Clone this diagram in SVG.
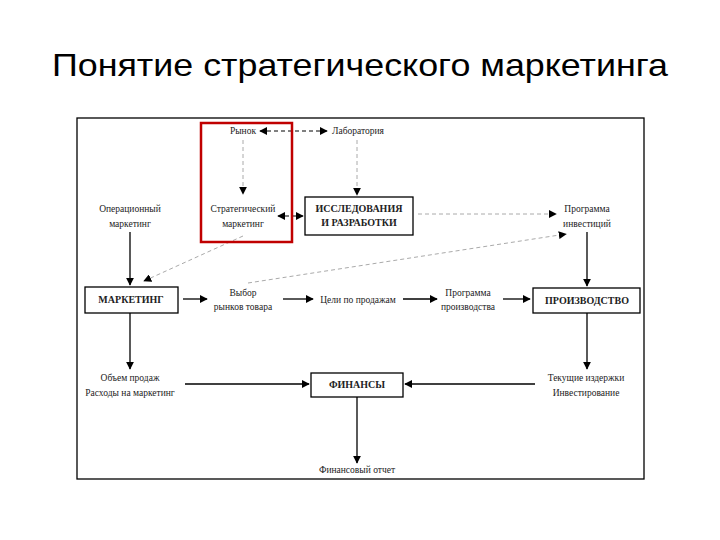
<svg xmlns="http://www.w3.org/2000/svg" width="720" height="540" viewBox="0 0 720 540">
<defs>
<style>
.t{font-family:"Liberation Serif","Times New Roman",serif;font-size:9.5px;fill:#222;text-anchor:middle}
.b{font-weight:bold;font-size:10px}
.ttl{font-family:"Liberation Sans",Arial,sans-serif;font-size:32px;fill:#000}
.box{fill:#fff;stroke:#000;stroke-width:1.3}
.s{stroke:#000;stroke-width:1.3;fill:none}
.d{stroke:#000;stroke-width:1;fill:none;stroke-dasharray:4 3}
.g{stroke:#aaa;stroke-width:1;fill:none;stroke-dasharray:4 3}
</style>
<marker id="a" viewBox="0 0 10 10" refX="9" refY="5" markerWidth="8" markerHeight="8" markerUnits="userSpaceOnUse" orient="auto-start-reverse">
<path d="M0,0 L10,5 L0,10 z" fill="#000"/>
</marker>
</defs>
<rect width="720" height="540" fill="#fff"/>
<text class="ttl" x="52" y="76" textLength="616" lengthAdjust="spacingAndGlyphs">Понятие стратегического маркетинга</text>
<rect x="77" y="118" width="567" height="361" fill="none" stroke="#000" stroke-width="1.3"/>

<g id="connectors">
<line class="d" x1="260" y1="131" x2="327" y2="131" marker-start="url(#a)" marker-end="url(#a)"/>
<line class="g" x1="243" y1="140" x2="243" y2="194" marker-end="url(#a)"/>
<line class="g" x1="357" y1="140" x2="357" y2="195" marker-end="url(#a)"/>
<line class="d" x1="278" y1="216" x2="303" y2="216" marker-start="url(#a)" marker-end="url(#a)"/>
<line class="g" x1="418" y1="214" x2="556" y2="214" marker-end="url(#a)"/>
<line class="g" x1="243" y1="236" x2="144" y2="281" marker-end="url(#a)"/>
<line class="g" x1="248" y1="283" x2="566" y2="234" marker-end="url(#a)"/>
<line class="s" x1="130" y1="232" x2="130" y2="285" marker-end="url(#a)"/>
<line class="s" x1="587" y1="232" x2="587" y2="286" marker-end="url(#a)"/>
<line class="s" x1="183" y1="299" x2="207" y2="299" marker-end="url(#a)"/>
<line class="s" x1="283" y1="299" x2="313" y2="299" marker-end="url(#a)"/>
<line class="s" x1="403" y1="299" x2="437" y2="299" marker-end="url(#a)"/>
<line class="s" x1="503" y1="299" x2="530" y2="299" marker-end="url(#a)"/>
<line class="s" x1="130" y1="313" x2="130" y2="369" marker-end="url(#a)"/>
<line class="s" x1="587" y1="313" x2="587" y2="369" marker-end="url(#a)"/>
<line class="s" x1="185" y1="384" x2="309" y2="384" marker-end="url(#a)"/>
<line class="s" x1="535" y1="384" x2="405" y2="384" marker-end="url(#a)"/>
<line class="s" x1="357" y1="397" x2="357" y2="463" marker-end="url(#a)"/>
</g>

<g id="red-highlight"><rect x="201" y="123" width="91" height="119" fill="none" stroke="#c00000" stroke-width="2.5"/></g>

<g id="rynok"><text class="t" x="243" y="134">Рынок</text></g>
<g id="laboratoriya"><text class="t" x="358" y="134">Лаборатория</text></g>
<g id="oper"><text class="t" x="130" y="212">Операционный</text><text class="t" x="130" y="227">маркетинг</text></g>
<g id="strat"><text class="t" x="243" y="212">Стратегический</text><text class="t" x="243" y="227">маркетинг</text></g>
<g id="rnd"><rect class="box" x="305" y="197" width="108" height="38"/><text class="t b" x="359" y="212">ИССЛЕДОВАНИЯ</text><text class="t b" x="359" y="226">И РАЗРАБОТКИ</text></g>
<g id="prog-inv"><text class="t" x="587" y="212">Программа</text><text class="t" x="587" y="227">инвестиций</text></g>
<g id="marketing"><rect class="box" x="85" y="287" width="93" height="26"/><text class="t b" x="131" y="303">МАРКЕТИНГ</text></g>
<g id="vybor"><text class="t" x="243" y="296">Выбор</text><text class="t" x="243" y="310">рынков товара</text></g>
<g id="celi"><text class="t" x="358" y="303">Цели по продажам</text></g>
<g id="prog-proizv"><text class="t" x="468" y="296">Программа</text><text class="t" x="468" y="310">производства</text></g>
<g id="proizv"><rect class="box" x="533" y="288" width="107" height="25"/><text class="t b" x="587" y="304">ПРОИЗВОДСТВО</text></g>
<g id="obem"><text class="t" x="130" y="381">Объем продаж</text><text class="t" x="130" y="396">Расходы на маркетинг</text></g>
<g id="finansy"><rect class="box" x="311" y="373" width="92" height="24"/><text class="t b" x="357" y="388">ФИНАНСЫ</text></g>
<g id="tekushie"><text class="t" x="586" y="381">Текущие издержки</text><text class="t" x="586" y="396">Инвестирование</text></g>
<g id="otchet"><text class="t" x="357" y="473">Финансовый отчет</text></g>
</svg>
